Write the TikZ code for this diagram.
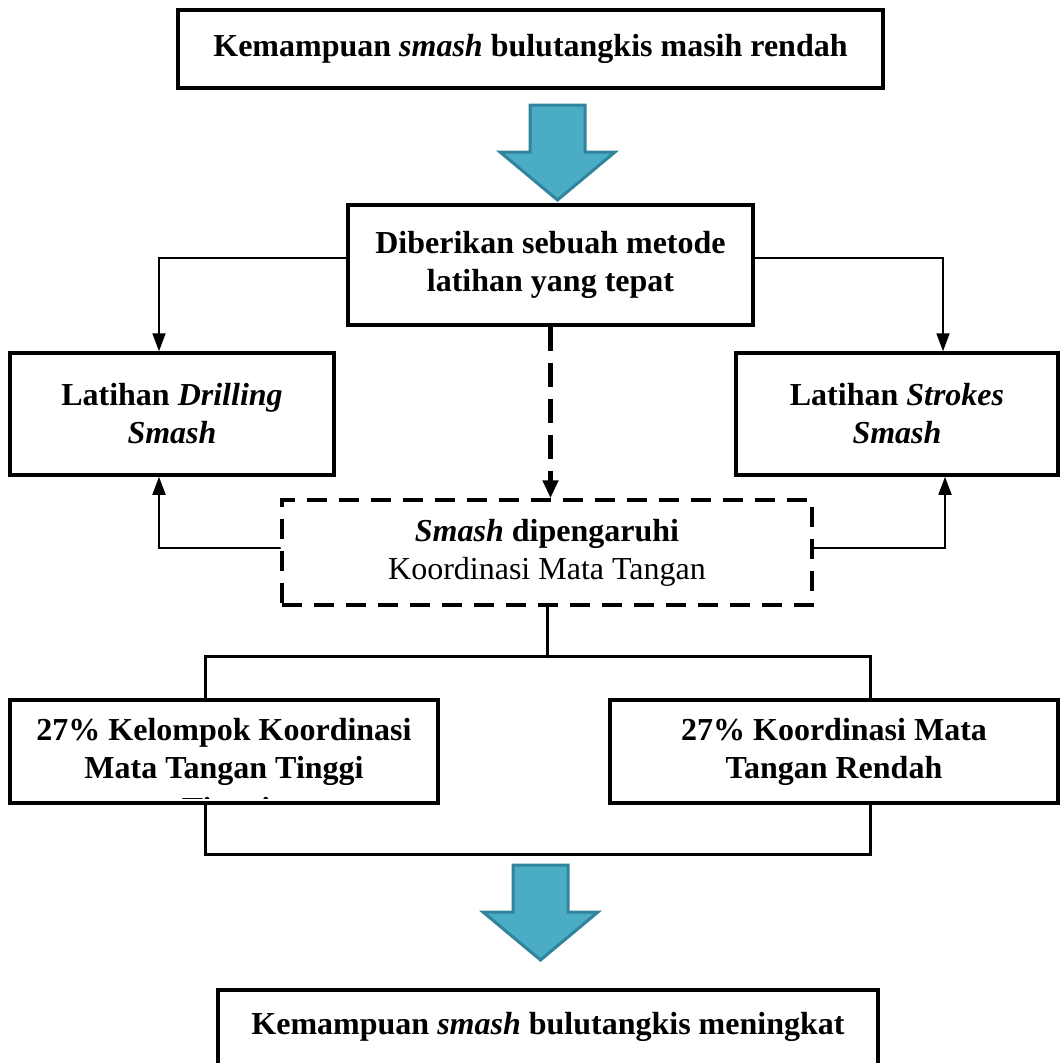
\documentclass[tikz,border=0pt]{standalone}
\usepackage{fontspec}
\setmainfont{Liberation Serif}
\usetikzlibrary{arrows.meta, positioning}
\definecolor{ink}{HTML}{000000}
\definecolor{wteal}{HTML}{4BACC6}
\definecolor{wtealdk}{HTML}{31849B}
\newcommand\fsz{\fontsize{32}{38}\selectfont}
\tikzset{
  box/.style={draw=ink, line width=3.5pt, align=center, inner sep=0pt, font=\fsz\bfseries},
  dashbox/.style={box, dash pattern=on 20pt off 12pt},
  link/.style={draw=ink, line width=1.8pt, line cap=round},
  linkto/.style={link, -{Triangle[width=13pt,length=18pt]}},
  bigarrow/.style={fill=wteal, draw=wtealdk, line width=3pt, line join=miter}
}

\begin{document}
\begin{tikzpicture}[x=1pt, y=-1pt]
  \useasboundingbox (0,0) rectangle (1061,1063);
  % boxes
  \node[box, minimum width=705, minimum height=78] (masalah) at (530.5,49)
     {Kemampuan \textit{smash} bulutangkis masih rendah};
  \node[box, minimum width=405, minimum height=120] (metode) at (550.5,265)
     {Diberikan sebuah metode\\latihan yang tepat};
  \node[box, minimum width=324, minimum height=122] (drill) at (172,414)
     {Latihan \textit{Drilling}\\\textit{Smash}};
  \node[box, minimum width=322, minimum height=122] (strokes) at (897,414)
     {Latihan \textit{Strokes}\\\textit{Smash}};
  \node[dashbox, minimum width=530, minimum height=105] (pengaruh) at (547,552.5)
     {\textit{Smash} dipengaruhi\\\mdseries Koordinasi Mata Tangan};
  \node[box, minimum width=428, minimum height=103] (tinggi) at (224,751.5)
     {27\% Kelompok Koordinasi\\Mata Tangan Tinggi};
  \node[box, minimum width=448, minimum height=103] (rendah) at (834,751.5)
     {27\% Koordinasi Mata\\Tangan Rendah};
  \node[box, minimum width=660, minimum height=104] (hasil) at (548,1042)
     {Kemampuan \textit{smash} bulutangkis meningkat\\~};
  % leftover line cut off inside the box
  \begin{scope}
    \clip (14,704) rectangle (434,798);
    \node[font=\fsz\bfseries] (sisa) at (226,812) {Tinggi};
  \end{scope}
  % block arrows
  \foreach \ax/\ay in {557.5/105, 540.5/865}{
    \draw[bigarrow] (\ax-27.5,\ay) -- (\ax+27.5,\ay) -- (\ax+27.5,\ay+47) -- (\ax+57.5,\ay+47)
      -- (\ax,\ay+95) -- (\ax-57.5,\ay+47) -- (\ax-27.5,\ay+47) -- cycle;}
  % connectors
  \draw[linkto] ([yshift=7pt]metode.west) -| ([xshift=-13pt]drill.north);
  \draw[linkto] ([yshift=7pt]metode.east) -| ([xshift=46pt]strokes.north);
  \draw[link, line width=5pt, line cap=butt, dash pattern=on 24pt off 12pt,
        -{Triangle[width=15pt,length=18pt]}] (metode.south) -- (metode.south |- pengaruh.north);
  \draw[linkto] ([yshift=4.5pt]pengaruh.west) -| ([xshift=-13pt]drill.south);
  \draw[linkto] ([yshift=4.5pt]pengaruh.east) -| ([xshift=48pt]strokes.south);
  \path (pengaruh.south) ++(0,50) coordinate (bagi);
  \draw[link, line width=3pt] (pengaruh.south) -- (bagi);
  \draw[link, line width=3pt] ([xshift=-19pt]tinggi.north) |- (bagi) -| ([xshift=36pt]rendah.north);
  \draw[link, line width=3pt] ([xshift=-19pt]tinggi.south) -- ++(0,50) -| ([xshift=36pt]rendah.south);
\end{tikzpicture}
\end{document}
